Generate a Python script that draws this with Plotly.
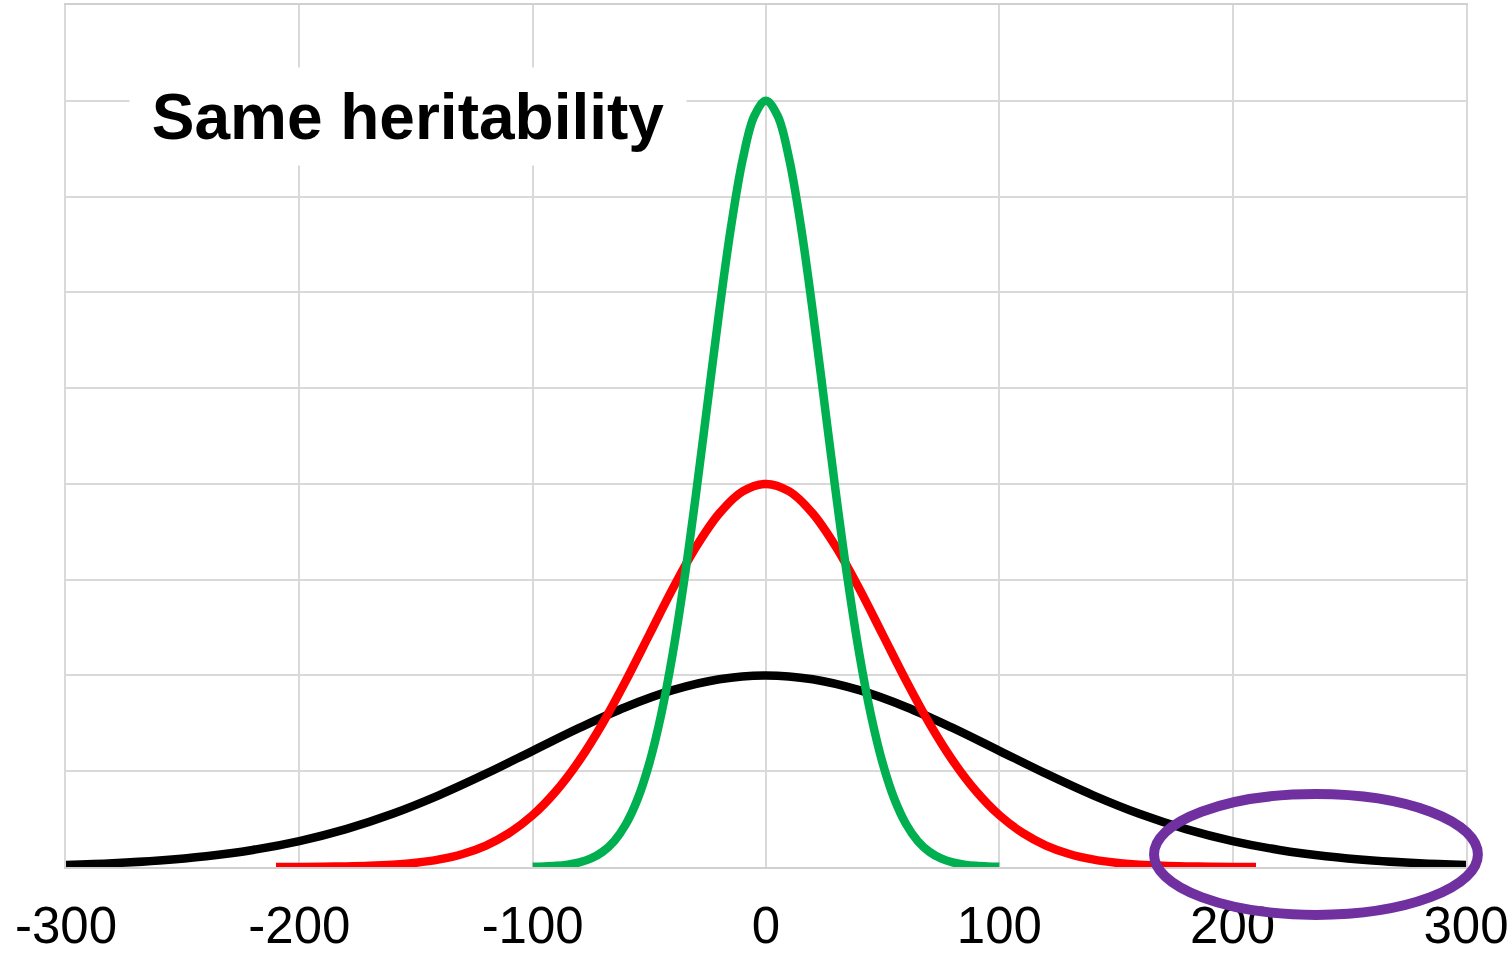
import plotly.graph_objects as go

# ---- data ----
black_x = [-300, -280, -260, -240, -220, -200, -180, -160, -140, -120, -100, -80, -60, -40, -20, 0,
           20, 40, 60, 80, 100, 120, 140, 160, 180, 200, 220, 240, 260, 280, 300]
black_y = [0.022, 0.040, 0.068, 0.112, 0.178, 0.271, 0.396, 0.556, 0.751, 0.974, 1.213, 1.452, 1.671, 1.846, 1.960, 2.0,
           1.960, 1.846, 1.671, 1.452, 1.213, 0.974, 0.751, 0.556, 0.396, 0.271, 0.178, 0.112, 0.068, 0.040, 0.022]

red_x = [-210, -200, -190, -180, -170, -160, -150, -140, -130, -120, -110, -100, -90, -80, -70, -60, -50, -40, -30, -20, -10, 0,
         10, 20, 30, 40, 50, 60, 70, 80, 90, 100, 110, 120, 130, 140, 150, 160, 170, 180, 190, 200, 210]
red_y = [0.001, 0.001, 0.003, 0.006, 0.012, 0.024, 0.044, 0.079, 0.136, 0.224, 0.356, 0.541, 0.792, 1.112, 1.501, 1.947, 2.426, 2.905, 3.341, 3.692, 3.921, 4.0,
         3.921, 3.692, 3.341, 2.905, 2.426, 1.947, 1.501, 1.112, 0.792, 0.541, 0.356, 0.224, 0.136, 0.079, 0.044, 0.024, 0.012, 0.006, 0.003, 0.001, 0.001]

green_x = [-100, -95, -90, -85, -80, -75, -70, -65, -60, -55, -50, -45, -40, -35, -30, -25, -20, -15, -10, -5, 0,
           5, 10, 15, 20, 25, 30, 35, 40, 45, 50, 55, 60, 65, 70, 75, 80, 85, 90, 95, 100]
green_y = [0.003, 0.006, 0.012, 0.025, 0.048, 0.089, 0.159, 0.272, 0.449, 0.711, 1.083, 1.583, 2.224, 3.002, 3.894, 4.852, 5.809, 6.682, 7.385, 7.842, 8.0,
           7.842, 7.385, 6.682, 5.809, 4.852, 3.894, 3.002, 2.224, 1.583, 1.083, 0.711, 0.449, 0.272, 0.159, 0.089, 0.048, 0.025, 0.012, 0.006, 0.003]

x_ticks = [-300, -200, -100, 0, 100, 200, 300]
x_tick_labels = ["-300", "-200", "-100", "0", "100", "200", "300"]
title_text = "Same heritability"

# highlight ellipse (data units) and title box centre (data units)
ell_x = [166.3, 305.1]
ell_y = [-0.50, 0.762]
title_pos = [-153.4, 7.84]

X_RANGE = [-300, 300]
Y_RANGE = [0, 9]

def to_px(x):
    return (x - X_RANGE[0]) / (X_RANGE[1] - X_RANGE[0])

def to_py(y):
    return (y - Y_RANGE[0]) / (Y_RANGE[1] - Y_RANGE[0])

fig = go.Figure()
for xs, ys, col in [(black_x, black_y, "#000000"), (red_x, red_y, "#FF0000"), (green_x, green_y, "#00B050")]:
    fig.add_trace(go.Scatter(x=xs, y=ys, mode="lines",
                             line=dict(color=col, width=8.5, shape="spline", smoothing=1.0),
                             hoverinfo="skip", showlegend=False))

fig.add_shape(type="circle", xref="paper", yref="paper",
              x0=to_px(ell_x[0]), x1=to_px(ell_x[1]), y0=to_py(ell_y[0]), y1=to_py(ell_y[1]),
              line=dict(color="#7030A0", width=10), layer="above")

fig.add_annotation(x=title_pos[0], y=title_pos[1], xref="x", yref="y", text=title_text,
                   showarrow=False, xanchor="center", yanchor="middle",
                   font=dict(family="Liberation Sans, Arial, sans-serif", size=64, color="black", weight="bold"),
                   bgcolor="white", width=556, height=97, borderpad=0)

fig.update_xaxes(range=X_RANGE, tickmode="array", tickvals=x_ticks, ticktext=x_tick_labels,
                 showgrid=True, gridcolor="#d9d9d9", gridwidth=1.5, zeroline=False,
                 showline=True, linecolor="#d0d0d0", linewidth=2, mirror=True,
                 ticks="", ticklabelstandoff=13, automargin=False,
                 tickfont=dict(family="Liberation Sans, Arial, sans-serif", size=51, color="black"),
                 fixedrange=True)
fig.update_yaxes(range=Y_RANGE, dtick=1, tick0=0, showticklabels=False, automargin=False,
                 showgrid=True, gridcolor="#d9d9d9", gridwidth=1.5, zeroline=False,
                 showline=True, linecolor="#d9d9d9", linewidth=1.5, mirror=True, ticks="",
                 fixedrange=True)

fig.update_layout(width=1512, height=953, margin=dict(l=66, r=46, t=5, b=86),
                  paper_bgcolor="white", plot_bgcolor="white", showlegend=False)

fig.write_html("out.html", config={"displayModeBar": False},
               post_script="document.body.style.margin='0';document.body.style.overflow='hidden';")
